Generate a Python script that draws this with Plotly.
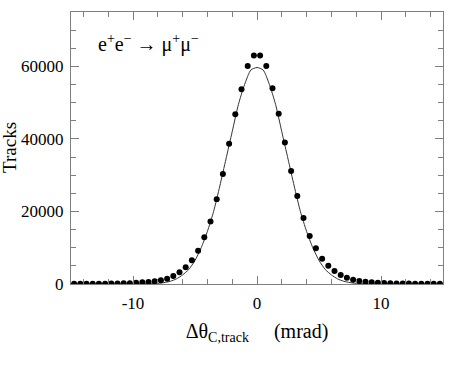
"""Delta theta_C residual distribution for e+e- -> mu+mu- tracks."""

import plotly.graph_objects as go

# binned track counts, bin centres every 0.5 mrad from -14.75 to 14.75
bin_centres = [-14.75 + 0.5 * i for i in range(60)]
track_counts = [
    # -14.75 .. -9.25
    50, 50, 60, 70, 80, 100, 120, 150, 190, 240, 330, 460,
    # -8.75 .. -0.25
    550, 740, 1010, 1470, 2210, 3220, 4600, 6530, 9200, 12880,
    17200, 23370, 30360, 38640, 46830, 53730, 60080, 63000,
    # 0.25 .. 8.75
    63000, 60080, 54000, 46920, 39010, 31190, 24290, 18220, 13250, 9840,
    6990, 5060, 3590, 2480, 1750, 1200, 830, 640,
    # 9.25 .. 14.75
    480, 360, 270, 200, 160, 130, 110, 90, 80, 70, 60, 60,
]

# fitted curve
fit_x = [-15, -12, -10, -9, -8, -7.5, -7, -6.5, -6, -5.5, -5, -4.5, -4, -3.5,
         -3, -2.5, -2, -1.5, -1, -0.5, 0, 0.5, 1, 1.5, 2, 2.5, 3, 3.5, 4,
         4.5, 5, 5.5, 6, 6.5, 7, 7.5, 8, 9, 10, 12, 15]
fit_y = [0, 0, 5, 40, 180, 380, 750, 1400, 2500, 4000, 6500, 10000, 14500,
         20000, 27000, 34500, 42000, 49500, 55000, 59000, 59700, 59000, 55000,
         49500, 42000, 34500, 27000, 20000, 14500, 10000, 6500, 4000, 2500,
         1400, 750, 380, 180, 40, 5, 0, 0]

x_tick_values = [-10, 0, 10]
x_tick_labels = ["-10", "0", "10"]
y_tick_values = [0, 20000, 40000, 60000]
y_tick_labels = ["0", "20000", "40000", "60000"]

FONT = "Liberation Serif"
TICK_FONT = dict(family=FONT, size=17, color="black")

figure = go.Figure()
figure.add_trace(
    go.Scatter(
        x=fit_x,
        y=fit_y,
        mode="lines",
        line=dict(color="#333333", width=1, shape="spline", smoothing=0.6),
        hoverinfo="skip",
    )
)
figure.add_trace(
    go.Scatter(
        x=bin_centres,
        y=track_counts,
        mode="markers",
        marker=dict(color="black", size=6),
    )
)

axis_common = dict(
    showline=True,
    linecolor="#808080",
    linewidth=1,
    mirror="ticks",
    ticks="inside",
    tickcolor="#808080",
    showgrid=False,
    zeroline=False,
    automargin=False,
)

figure.update_xaxes(
    range=[-15, 15],
    tickvals=x_tick_values,
    ticktext=x_tick_labels,
    tickfont=TICK_FONT,
    ticklen=8,
    ticklabelstandoff=4,
    minor=dict(dtick=2, tick0=0, ticks="inside", ticklen=5, tickcolor="#808080"),
    title=dict(
        text="Δθ<sub>C,track</sub>\u00a0\u00a0\u00a0\u00a0\u00a0(mrad)",
        font=dict(family=FONT, size=20, color="black"),
        standoff=11,
    ),
    **axis_common,
)
figure.update_yaxes(
    range=[0, 75000],
    tickvals=y_tick_values,
    ticktext=y_tick_labels,
    tickfont=TICK_FONT,
    ticklen=8,
    ticklabelstandoff=3,
    minor=dict(dtick=5000, ticks="inside", ticklen=5, tickcolor="#808080"),
    **axis_common,
)

# y axis title placed by hand, it sits close to the page edge
figure.add_annotation(
    x=0,
    y=0.5,
    xref="paper",
    yref="paper",
    xanchor="center",
    yanchor="middle",
    xshift=-62,
    textangle=-90,
    text="Tracks",
    showarrow=False,
    font=dict(family=FONT, size=19, color="black"),
)

figure.add_annotation(
    x=0.066,
    y=0.885,
    xref="paper",
    yref="paper",
    xanchor="left",
    yanchor="middle",
    text="e<sup>+</sup>e<sup>−</sup> → μ<sup>+</sup>μ<sup>−</sup>",
    showarrow=False,
    font=dict(family=FONT, size=20, color="black"),
)

figure.update_layout(
    width=454,
    height=369,
    margin=dict(l=71, r=11, t=12, b=85),
    plot_bgcolor="white",
    paper_bgcolor="white",
    showlegend=False,
)

# drop the browser's default body margin so the figure fills the window
figure.write_html(
    "out.html",
    config={"displayModeBar": False},
    post_script="document.body.style.margin = '0';",
)
